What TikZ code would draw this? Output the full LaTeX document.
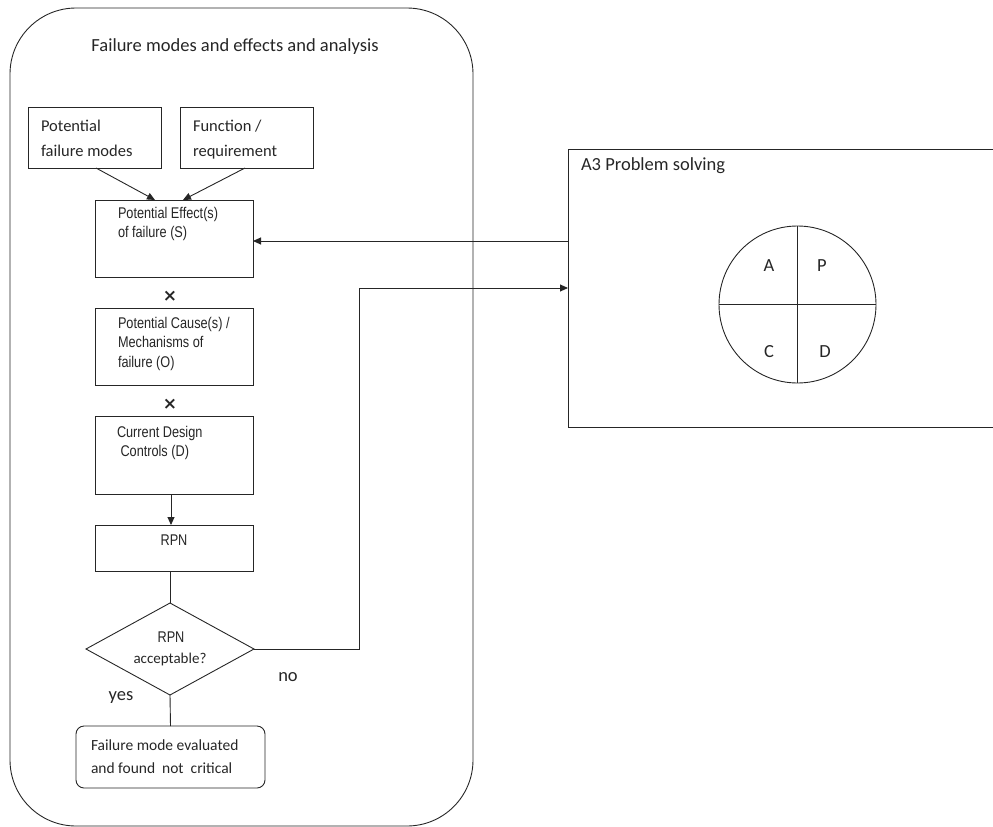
\documentclass[tikz,border=0pt]{standalone}
\usepackage{fontspec}
\setmainfont{Carlito}
\newfontfamily\narrowfont[FakeStretch=0.82]{Liberation Sans}
\newfontfamily\symfont{DejaVu Sans Bold}
\usetikzlibrary{shapes.geometric,arrows.meta,calc}
\begin{document}
\begin{tikzpicture}[x=1pt,y=-1pt,
  line width=0.9pt,
  every node/.style={inner sep=0pt,outer sep=0pt},
  boxc/.style={draw=black!85,rectangle},
  calib/.style={font=\fontsize{16.5}{25}\selectfont,align=left,anchor=north west,text=black!85},
  narrowt/.style={font=\narrowfont\fontsize{15.5}{19.5}\selectfont,align=left,anchor=north west,text=black!85},
  big/.style={font=\fontsize{18.5}{18}\selectfont,text=black!85},
  times/.style={font=\symfont\fontsize{17}{17}\selectfont,text=black!85},
  arr/.style={draw=black!85,-{Triangle[length=8pt,width=7pt]}},
  ln/.style={draw=black!85}]
\useasboundingbox (0,0) rectangle (993,827);
% outer FMEA container
\node[draw=black!85,rounded corners=66pt,minimum width=463pt,minimum height=818pt] (fmea) at (241.5,417) {};
\node[big] (fmeatitle) at (235,47) {Failure modes and effects and analysis};
% top boxes
\node[boxc,minimum width=133pt,minimum height=61pt] (pfm) at (94.5,137.5) {};
\node[calib] (pfmt) at (41,120) {Potential\\failure modes};
\node[boxc,minimum width=133pt,minimum height=61pt] (fr) at (246.5,137.5) {};
\node[calib] (frt) at (193,120) {Function /\\requirement};
% chain
\node[boxc,minimum width=158pt,minimum height=77pt] (pe) at (174,238.5) {};
\node[narrowt] (pet) at (118,207) {Potential Effect(s)\\of failure (S)};
\node[times] (x1) at (170,296) {×};
\node[boxc,minimum width=158pt,minimum height=77pt] (pc) at (174,346.5) {};
\node[narrowt] (pct) at (118,317) {Potential Cause(s) /\\Mechanisms of\\failure (O)};
\node[times] (x2) at (170,404) {×};
\node[boxc,minimum width=158pt,minimum height=78pt] (cd) at (174,455) {};
\node[narrowt] (cdt) at (117,426) {Current Design\\\ Controls (D)};
\node[boxc,minimum width=158pt,minimum height=46pt] (rpn) at (174,548) {};
\node[font=\narrowfont\fontsize{15.5}{15}\selectfont,text=black!85] (rpnt) at (174,540) {RPN};
\node[draw=black!85,diamond,minimum width=168pt,minimum height=92pt] (dia) at (170,649) {};
\node[font=\narrowfont\fontsize{15.5}{15}\selectfont,text=black!85] (diat1) at (171,637) {RPN};
\node[font=\fontsize{15}{15}\selectfont,text=black!85] (diat2) at (170,659) {acceptable?};
\node[draw=black!85,rounded corners=8pt,minimum width=189pt,minimum height=62pt] (fin) at (170.5,757) {};
\node[calib,font=\fontsize{15.5}{23}\selectfont] (fint) at (91,740) {Failure mode evaluated\\and found\ \ not\ \ critical};
\node[big] (yes) at (121,697) {yes};
\node[big] (no) at (288,677) {no};
% A3 box
\coordinate (a3tl) at (568,149);
\coordinate (a3bl) at (568,427);
\draw[ln] (993,149) -- (a3tl) -- (a3bl) -- (993,427);
\node[big,anchor=west] (a3t) at (581,166) {A3 Problem solving};
\node[draw=black!85,circle,minimum size=157pt] (pdca) at (797.5,304.5) {};
\draw[ln] (pdca.north) -- (pdca.south);
\draw[ln] (pdca.west) -- (pdca.east);
\node[big] (la) at (769,266) {A};
\node[big] (lp) at (822,266) {P};
\node[big] (lc) at (769,352) {C};
\node[big] (ld) at (825,352) {D};
% connectors
\draw[arr] ($(pfm.south)+(1.5,0)$) -- ($(pe.north)+(-19,0)$);
\draw[arr] ($(fr.south)+(-1.5,0)$) -- ($(pe.north)+(9,0)$);
\draw[arr] ($(cd.south)+(-3,0)$) -- ($(rpn.north)+(-3,0)$);
\draw[ln] ($(rpn.south)+(-4,0)$) -- (dia.north);
\draw[ln] (dia.south) -- (fin.north);
\draw[arr] (568,241) -- (pe.east |- 0,241);
\draw[arr] (dia.east) -- (359,649) -- (359,288) -- (568,288);
\end{tikzpicture}
\end{document}
